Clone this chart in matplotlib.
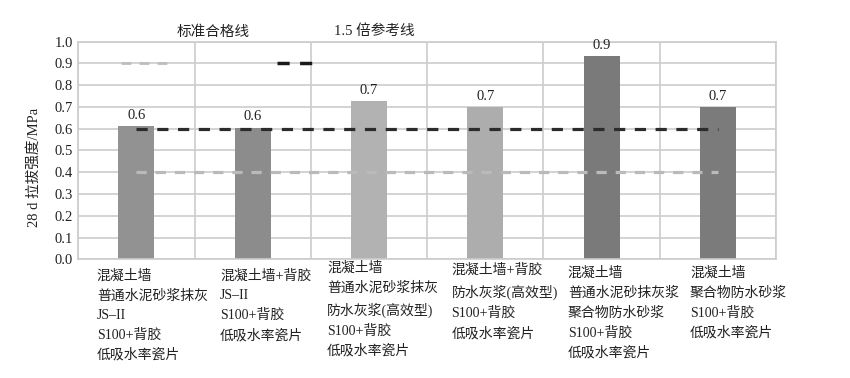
import matplotlib
matplotlib.use('Agg')
import matplotlib.pyplot as plt
import numpy as np

plt.rcParams['font.family'] = ['Liberation Serif', 'Noto Sans CJK SC', 'DejaVu Sans']

# data
categories = [
    '混凝土墙\n普通水泥砂浆抹灰\nJS–II\nS100+背胶\n低吸水率瓷片',
    '混凝土墙+背胶\nJS–II\nS100+背胶\n低吸水率瓷片',
    '混凝土墙\n普通水泥砂浆抹灰\n防水灰浆(高效型)\nS100+背胶\n低吸水率瓷片',
    '混凝土墙+背胶\n防水灰浆(高效型)\nS100+背胶\n低吸水率瓷片',
    '混凝土墙\n普通水泥砂抹灰浆\n聚合物防水砂浆\nS100+背胶\n低吸水率瓷片',
    '混凝土墙\n聚合物防水砂浆\nS100+背胶\n低吸水率瓷片',
]
strength = [0.61, 0.605, 0.725, 0.70, 0.935, 0.70]
value_labels = ['0.6', '0.6', '0.7', '0.7', '0.9', '0.7']
standard_line = [0.4] * 6
ref_line = [0.6] * 6
legend_names = ['标准合格线', '1.5 倍参考线']

bar_colors = ['#929292', '#8c8c8c', '#b2b2b2', '#adadad', '#7a7a7a', '#7b7b7b']
label_dx = [-0.34, -0.28, -0.36, -0.29, -0.29, -0.24]
label_dy = [-0.045, -0.045, -0.01, -0.02, -0.035, -0.035]

fig = plt.figure(figsize=(8.5, 3.78), dpi=100)
ax = fig.add_axes([0.092, 0.314, 0.821, 0.576])

x = np.arange(len(strength))
ax.bar(x, strength, width=0.31, color=bar_colors, zorder=2)
for xi, v, t in zip(x, strength, value_labels):
    ax.annotate(t, (xi, v), xytext=(0, 3), textcoords='offset points',
                ha='center', va='bottom', fontsize=10.5, color='#222222')

ax.plot(x, standard_line, color='#bababa', lw=2.3, dashes=(3.2, 2.8), zorder=3)
ax.plot(x, ref_line, color='#2b2b2b', lw=2.3, dashes=(3.5, 3), zorder=3)

ax.set_xlim(-0.5, len(strength) - 0.5)
ax.set_ylim(0, 1.0)
ax.set_yticks(np.arange(0, 1.01, 0.1))
ax.set_yticklabels([f'{v:.1f}' for v in np.arange(0, 1.01, 0.1)], fontsize=10.5, color='#222222')
ax.set_xticks(np.arange(-0.5, len(strength), 1.0))
ax.set_xticklabels([])
ax.tick_params(length=0, pad=4)
ax.grid(True, color='#cccccc', lw=1.2, zorder=0)
ax.set_axisbelow(True)
for s in ax.spines.values():
    s.set_color('#cccccc')
    s.set_linewidth(1.2)

ax.set_ylabel('28 d 拉拔强度/MPa', fontsize=10.5, color='#222222')
ax.yaxis.set_label_coords(-0.053, 0.42)

for xi, lab, dx, dy in zip(x, categories, label_dx, label_dy):
    ax.text(xi + dx, dy, lab, transform=ax.get_xaxis_transform(),
            ha='left', va='top', fontsize=10, color='#222222', linespacing=1.65)

# legend drawn above the plot
ax.plot([0.062, 0.127], [0.9, 0.9], transform=ax.get_yaxis_transform(),
        color='#bdbdbd', lw=2, dashes=(3.5, 3), clip_on=False, zorder=3)
ax.plot([0.285, 0.34], [0.9, 0.9], transform=ax.get_yaxis_transform(),
        color='#1a1a1a', lw=2.5, dashes=(3.5, 3), clip_on=False, zorder=3)
fig.text(213 / 850, 1 - 32 / 378, legend_names[0], ha='center', va='center',
         fontsize=10.5, color='#222222')
fig.text(374 / 850, 1 - 31 / 378, legend_names[1], ha='center', va='center',
         fontsize=10.5, color='#222222')

fig.savefig('out.png', dpi=100)
